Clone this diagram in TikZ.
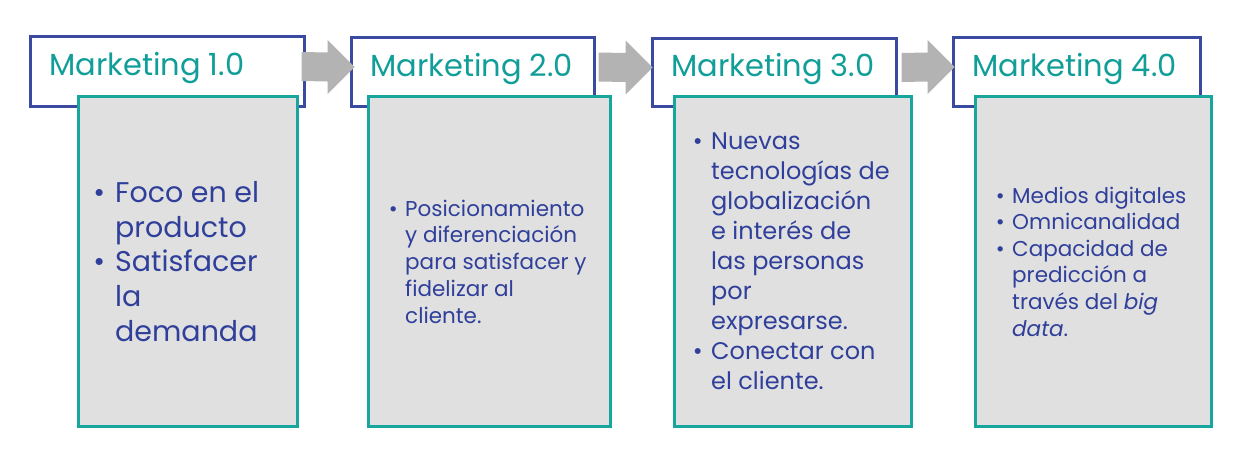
\documentclass[tikz,border=0pt]{standalone}
\usepackage{fontspec}
\setmainfont{Poppins}
\usetikzlibrary{calc}
\definecolor{titleblue}{HTML}{3A4AA0}
\definecolor{boxteal}{HTML}{17A69D}
\definecolor{titleteal}{HTML}{119E99}
\definecolor{textblue}{HTML}{2F3F9A}
\definecolor{boxgray}{HTML}{E0E0E0}
\definecolor{arrowgray}{HTML}{B3B3B3}

\newcommand{\bul}{\llap{\textbullet\hspace{0.35em}}}

\begin{document}
\begin{tikzpicture}[x=1pt,y=-1pt,
  titlebox/.style={draw=titleblue,line width=3pt,fill=white,inner sep=0pt},
  contentbox/.style={draw=boxteal,line width=3pt,fill=boxgray,inner sep=0pt,minimum height=330pt},
  titletext/.style={anchor=base west,inner sep=0pt,text=titleteal,font=\fontsize{30.5}{36}\selectfont},
  bodytext/.style={anchor=west,inner sep=0pt,text=textblue,align=left}]
  \useasboundingbox (0,0) rectangle (1256,450);
  % title boxes
  \node[titlebox,minimum width=274pt,minimum height=70pt] (t1) at (167.5,71.5) {};
  \node[titlebox,minimum width=243pt,minimum height=69pt] (t2) at (473,72) {};
  \node[titlebox,minimum width=244pt,minimum height=68pt] (t3) at (774.5,72.5) {};
  \node[titlebox,minimum width=247pt,minimum height=69pt] (t4) at (1077,72) {};
  \node[titletext] (l1) at ($(t1.west)+(20,4)$) {Marketing 1.0};
  \node[titletext] (l2) at ($(t2.west)+(20,4)$) {Marketing 2.0};
  \node[titletext] (l3) at ($(t3.west)+(20,4)$) {Marketing 3.0};
  \node[titletext] (l4) at ($(t4.west)+(20,4)$) {Marketing 4.0};
  % gray arrows
  \foreach \from/\to/\s/\e in {t1/t2/-4.5/4.5, t2/t3/2.5/1.5, t3/t4/3.5/2.5}
    \fill[arrowgray] ($(\from.east)+(\s,-19.5)$) -- ($(\to.west)+(\e-27,-19.5)$)
      -- ($(\to.west)+(\e-27,-32)$) -- ($(\to.west)+(\e,-5)$)
      -- ($(\to.west)+(\e-27,22)$) -- ($(\to.west)+(\e-27,9.5)$)
      -- ($(\from.east)+(\s,9.5)$) -- cycle;
  % content boxes
  \node[contentbox,minimum width=219pt] (c1) at (188,261.5) {};
  \node[contentbox,minimum width=242pt] (c2) at (489.5,261.5) {};
  \node[contentbox,minimum width=237pt] (c3) at (793,261.5) {};
  \node[contentbox,minimum width=236pt] (c4) at (1093.5,261.5) {};
  \node[bodytext,font=\fontsize{28.5}{34.75}\selectfont] (b1) at ($(c1.west)+(38,0)$)
    {\bul Foco en el\\producto\\\bul Satisfacer\\la\\demanda};
  \node[bodytext,font=\fontsize{21.5}{26.75}\selectfont] (b2) at ($(c2.west)+(38,0)$)
    {\bul Posicionamiento\\y diferenciación\\para satisfacer y\\fidelizar al\\cliente.};
  \node[bodytext,font=\fontsize{24}{30}\selectfont] (b3) at ($(c3.west)+(38,0)$)
    {\bul Nuevas\\tecnologías de\\globalización\\e interés de\\las personas\\por\\expresarse.\\\bul Conectar con\\el cliente.};
  \node[bodytext,font=\fontsize{21.5}{26.6}\selectfont] (b4) at ($(c4.west)+(38,0)$)
    {\bul Medios digitales\\\bul Omnicanalidad\\\bul Capacidad de\\predicción a\\través del \textit{big}\\\textit{data}.};
\end{tikzpicture}
\end{document}
